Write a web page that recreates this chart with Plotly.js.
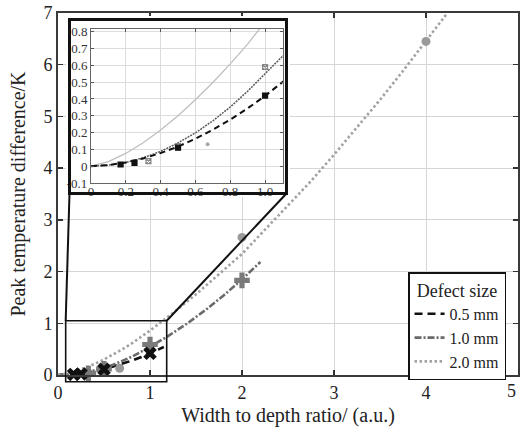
<!DOCTYPE html>
<html><head><meta charset="utf-8">
<script src="https://cdn.plot.ly/plotly-3.0.1.min.js"></script>
<style>html,body{margin:0;padding:0;background:#fff}#chart{width:520px;height:430px}</style>
</head><body><div id="chart"></div>
<script>
const x05 = [0.17, 0.25, 0.5, 1.0];
const y05 = [0.01, 0.02, 0.11, 0.42];
const x10 = [0.33, 0.5, 1.0, 2.0];
const y10 = [0.03, 0.12, 0.59, 1.83];
const x20 = [0.67, 2.0, 4.0];
const y20 = [0.13, 2.66, 6.45];
// fitted curves
const fitX05 = [0, 0.1, 0.2, 0.3, 0.4, 0.5, 0.6, 0.7, 0.8, 0.9, 1.0, 1.1, 1.15];
const fitY05 = [0, 0.006, 0.022, 0.046, 0.078, 0.117, 0.163, 0.217, 0.277, 0.344, 0.418, 0.498, 0.541];
const fitX10 = [0, 0.1, 0.2, 0.3, 0.4, 0.5, 0.6, 0.7, 0.8, 0.9, 1.0, 1.1, 1.2, 1.4, 1.6, 1.8, 2.0, 2.2];
const fitY10 = [0, 0.006, 0.022, 0.05, 0.088, 0.138, 0.198, 0.27, 0.352, 0.446, 0.55, 0.65, 0.757, 0.991, 1.252, 1.538, 1.85, 2.186];
const fitX20 = [0, 0.1, 0.2, 0.3, 0.4, 0.5, 0.6, 0.7, 0.8, 0.9, 1.0, 1.25, 1.5, 1.75, 2.0, 2.25, 2.5, 2.75, 3.0, 3.25, 3.5, 3.75, 4.0, 4.22];
const fitY20 = [0, 0.027, 0.076, 0.14, 0.215, 0.3, 0.395, 0.498, 0.608, 0.726, 0.86, 1.2, 1.56, 1.95, 2.34, 2.81, 3.27, 3.75, 4.26, 4.78, 5.32, 5.88, 6.45, 6.97];
const seriesNames = ['0.5 mm', '1.0 mm', '2.0 mm'];
const legendTitle = 'Defect size';
const xTitle = 'Width to depth ratio/ (a.u.)';
const yTitle = 'Peak temperature difference/K';
const mainXTicks = [0, 1, 2, 3, 4, 5];
const mainXLabels = ['0', '1', '2', '3', '4', ''];
const lastXLabel = '5';   // drawn right-aligned at the axis end so it stays inside the page
const mainYTicks = [0, 1, 2, 3, 4, 5, 6, 7];
const insetXTicks = [0, 0.2, 0.4, 0.6, 0.8, 1.0];
const insetXLabels = ['0', '0.2', '0.4', '0.6', '0.8', '1.0'];
const insetYTicks = [-0.1, 0, 0.1, 0.2, 0.3, 0.4, 0.5, 0.6, 0.7, 0.8];
const insetYLabels = ['-0.1', '0', '0.1', '0.2', '0.3', '0.4', '0.5', '0.6', '0.7', '0.8'];

const FONT = '"Liberation Serif", "Times New Roman", "DejaVu Serif", serif';
const C05 = '#111111', C10 = '#6a6a6a', C20 = '#a2a2a2';

const traces = [
  // main fit lines (legend)
  {x: fitX05, y: fitY05, mode: 'lines', name: seriesNames[0], line: {color: C05, width: 2.6, dash: '8px,5px'}, cliponaxis: false},
  {x: fitX10, y: fitY10, mode: 'lines', name: seriesNames[1], line: {color: C10, width: 2.6, dash: '7px,2px,2px,2px'}, cliponaxis: false},
  {x: fitX20, y: fitY20, mode: 'lines', name: seriesNames[2], line: {color: C20, width: 2.6, dash: '2.5px,2.5px'}, cliponaxis: false},
  // main markers
  {x: x20, y: y20, mode: 'markers', showlegend: false, marker: {symbol: 'circle', size: 9, color: '#9a9a9a'}, cliponaxis: false},
  {x: x10, y: y10, mode: 'markers', showlegend: false, marker: {symbol: 'cross', size: 13, color: '#7a7a7a'}, cliponaxis: false},
  {x: x05, y: y05, mode: 'markers', showlegend: false, marker: {symbol: 'x', size: 12, color: '#111'}, cliponaxis: false},
  // helper subplot for inset box background
  {x: [], y: [], xaxis: 'x2', yaxis: 'y2', mode: 'markers', showlegend: false, hoverinfo: 'skip'},
  // inset
  {x: fitX20, y: fitY20, xaxis: 'x3', yaxis: 'y3', mode: 'lines', showlegend: false, line: {color: '#bdbdbd', width: 1.2}},
  {x: fitX10, y: fitY10, xaxis: 'x3', yaxis: 'y3', mode: 'lines', showlegend: false, line: {color: '#5a5a5a', width: 1.5, dash: '2px,1px'}},
  {x: fitX05, y: fitY05, xaxis: 'x3', yaxis: 'y3', mode: 'lines', showlegend: false, line: {color: '#111', width: 2, dash: '6px,4px'}},
  {x: x20, y: y20, xaxis: 'x3', yaxis: 'y3', mode: 'markers', showlegend: false, marker: {symbol: 'circle', size: 4, color: '#aaaaaa'}},
  {x: x10, y: y10, xaxis: 'x3', yaxis: 'y3', mode: 'markers', showlegend: false, marker: {symbol: 'square-x-open', size: 5, color: '#888', line: {width: 1.2, color: '#888'}}},
  {x: x05, y: y05, xaxis: 'x3', yaxis: 'y3', mode: 'markers', showlegend: false, marker: {symbol: 'square-x', size: 5, color: '#111', line: {width: 1.2, color: '#111'}}}
];

const mainAxis = {
  ticks: 'inside', ticklen: 5, tickwidth: 1.5, tickcolor: '#333',
  showline: true, linecolor: '#3a3a3a', linewidth: 2, mirror: 'ticks',
  showgrid: true, gridcolor: '#d6d6d6', gridwidth: 1, zeroline: false,
  tickfont: {family: FONT, size: 18, color: '#222'}, automargin: false,
  ticklabeloverflow: 'allow'
};
const insetAxis = {
  ticks: 'inside', ticklen: 3, tickwidth: 1, tickcolor: '#555',
  showline: true, linecolor: '#666', linewidth: 1, mirror: 'ticks',
  showgrid: true, gridcolor: '#dcdcdc', gridwidth: 1, zeroline: false,
  tickfont: {family: FONT, size: 13, color: '#333'}, automargin: false,
  ticklabeloverflow: 'allow'
};

const layout = {
  width: 520, height: 430,
  margin: {l: 58, r: 2, t: 13, b: 55},
  paper_bgcolor: '#fff', plot_bgcolor: '#fff',
  showlegend: true,
  font: {family: FONT, color: '#222'},
  xaxis: Object.assign({}, mainAxis, {range: [0, 5], tickvals: mainXTicks, ticktext: mainXLabels,
    title: {text: xTitle, font: {family: FONT, size: 20, color: '#222'}, standoff: 6}}),
  yaxis: Object.assign({}, mainAxis, {range: [0, 7], tickvals: mainYTicks,
    title: {text: yTitle, font: {family: FONT, size: 20, color: '#222'}, standoff: 12}}),
  xaxis2: {domain: [0.01739, 0.5043], anchor: 'y2', range: [-0.01613, 1.01613], visible: false, showgrid: false, zeroline: false, fixedrange: true},
  yaxis2: {domain: [0.4917, 0.9917], anchor: 'x2', range: [-0.0201, 1.0201], visible: false, showgrid: false, zeroline: false, fixedrange: true},
  xaxis3: Object.assign({}, insetAxis, {domain: [0.0717, 0.4891], anchor: 'y3', range: [0, 1.103], tickvals: insetXTicks, ticktext: insetXLabels, ticklabelstandoff: -4}),
  yaxis3: Object.assign({}, insetAxis, {domain: [0.5304, 0.9558], anchor: 'x3', range: [-0.1, 0.816], tickvals: insetYTicks, ticktext: insetYLabels}),
  legend: {
    x: 0.974, xanchor: 'right', y: 0.2845, yanchor: 'top',
    bgcolor: '#fff', bordercolor: '#111', borderwidth: 1.5,
    font: {family: FONT, size: 16, color: '#222'},
    title: {text: legendTitle, side: 'top center', font: {family: FONT, size: 18, color: '#222'}},
    itemwidth: 30, tracegroupgap: 0
  },
  annotations: [
    {text: lastXLabel, xref: 'x', yref: 'paper', x: mainXTicks[mainXTicks.length - 1], y: 0,
     xanchor: 'right', yanchor: 'top', yshift: -4, showarrow: false,
     font: {family: FONT, size: 18, color: '#222'}}
  ],
  shapes: [
    // inset background (in helper subplot, covers main grid)
    {type: 'rect', xref: 'x2', yref: 'y2', x0: -0.02, x1: 1.02, y0: -0.03, y1: 1.03, layer: 'below', fillcolor: '#fff', line: {width: 0}},
    // inset frame
    {type: 'rect', xref: 'paper', yref: 'paper', x0: 0.025, x1: 0.4967, y0: 0.5014, y1: 0.9821, layer: 'above', line: {color: '#111', width: 3}},
    // zoom rectangle in main plot
    {type: 'rect', xref: 'paper', yref: 'paper', x0: 0.0167, x1: 0.2363, y0: -0.0185, y1: 0.15, layer: 'above', line: {color: '#111', width: 1.6}},
    // connector lines
    {type: 'line', xref: 'paper', yref: 'paper', x0: 0.0167, y0: 0.15, x1: 0.025, y1: 0.5014, layer: 'above', line: {color: '#111', width: 2}},
    {type: 'line', xref: 'paper', yref: 'paper', x0: 0.2363, y0: 0.15, x1: 0.4967, y1: 0.5014, layer: 'above', line: {color: '#111', width: 2}},
    // legend title separator
    {type: 'line', xref: 'paper', yref: 'paper', x0: 0.763, x1: 0.974, y0: 0.213, y1: 0.213, layer: 'above', line: {color: '#111', width: 1.5}}
  ]
};

Plotly.newPlot('chart', traces, layout, {displayModeBar: false, staticPlot: true});
</script>
</body></html>
